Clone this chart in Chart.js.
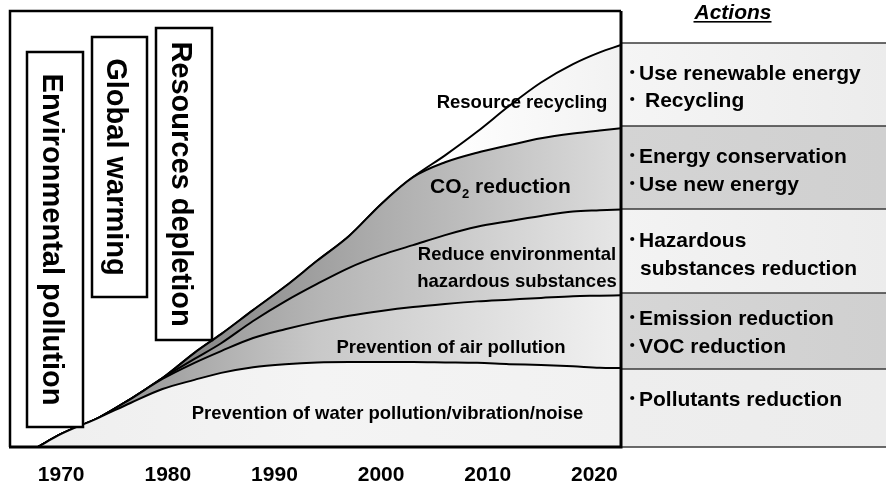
<!DOCTYPE html>
<html><head><meta charset="utf-8">
<script src="https://cdn.jsdelivr.net/npm/chart.js@4/dist/chart.umd.min.js"></script>
<style>html,body{margin:0;padding:0;background:#fff}canvas{display:block}</style>
</head><body>
<canvas id="c" width="886" height="489"></canvas>
<script>
// ---- data ----
const years = [1967.8,1970,1973.5,1976.5,1979.5,1982.5,1985,1988,1991,1994,1997,2000,2003,2006,2009,2012,2015,2018,2020.5,2022.5];
const tickYears = [1970,1980,1990,2000,2010,2020];
const waterPollution      = [0,3.0,6.7,10.1,13.3,15.4,17.0,18.3,19.0,19.4,19.5,19.5,19.5,19.4,19.3,19.0,18.8,18.5,18.2,18.1];
const airPollution        = [0,0,0,0.9,2.3,3.9,5.0,6.7,8.0,9.3,10.6,11.7,12.6,13.4,14.1,14.8,15.4,16.1,16.5,16.7];
const hazardousSubstances = [0,0,0,0,0.2,0.9,1.8,3.9,6.4,8.7,11.0,12.8,14.2,15.8,17.1,18.0,18.8,19.4,19.6,19.7];
const co2Reduction        = [0,0,0,0,0,1.4,2.1,2.5,3.4,5.3,7.3,11.7,15.6,16.7,17.0,17.4,17.8,17.9,18.3,18.6];
const resourceRecycling   = [0,0,0,0,0,0,0,0,0,0,0,0,0,1.6,4.8,9.0,12.8,15.9,17.9,19.1];
const seriesNames = ['Prevention of water pollution/vibration/noise','Prevention of air pollution','Reduce environmental hazardous substances','CO2 reduction','Resource recycling'];
const themes = ['Environmental pollution','Global warming','Resources depletion'];
const actionsTitle = 'Actions';
const actions = [
  ['Use renewable energy',' Recycling'],
  ['Energy conservation','Use new energy'],
  ['Hazardous',' substances reduction'],
  ['Emission reduction','VOC reduction'],
  ['Pollutants reduction']
];

// ---- styles ----
const FF = '"Liberation Sans", Arial, Helvetica, sans-serif';
const f = (s, it) => (it ? 'italic ' : '') + 'bold ' + s + 'px ' + FF;
const gradStops = [
  [[0,'#eeeeee'],[0.5,'#f4f4f4'],[1,'#f1f1f1']],
  [[0,'#7c7c7c'],[0.15,'#8e8e8e'],[0.3,'#aaaaaa'],[0.5,'#c8c8c8'],[1,'#f1f1f1']],
  [[0,'#7c7c7c'],[0.25,'#929292'],[0.5,'#b4b4b4'],[1,'#e6e6e6']],
  [[0,'#707070'],[0.3,'#878787'],[0.55,'#a6a6a6'],[1,'#dcdcdc']],
  [[0,'#ffffff'],[0.7,'#ffffff'],[1,'#f2f2f2']]
];
const fallback = ['#eeeeee','#c0c0c0','#b0b0b0','#a0a0a0','#fafafa'];
function grad(chart, i) {
  const a = chart.chartArea;
  if (!a) return fallback[i];
  const g = chart.ctx.createLinearGradient(a.left, 0, a.right, 0);
  gradStops[i].forEach(([o, c]) => g.addColorStop(o, c));
  return g;
}
const layers = [waterPollution, airPollution, hazardousSubstances, co2Reduction, resourceRecycling];

const overlay = {
  id: 'overlay',
  afterDatasetsDraw(chart) {
    const c = chart.ctx;
    const a = chart.chartArea;
    c.save();
    c.fillStyle = '#000';
    // area labels
    c.textAlign = 'center';
    c.textBaseline = 'alphabetic';
    c.font = f(18.5);
    c.fillText(seriesNames[0], 387.5, 419);
    c.fillText(seriesNames[1], 451, 353);
    c.fillText('Reduce environmental', 517, 260);
    c.fillText('hazardous substances', 517, 287);
    c.fillText(seriesNames[4], 522, 108);
    // CO2 label with subscript
    c.textAlign = 'left';
    c.font = f(21);
    let x = 430;
    c.fillText('CO', x, 193); x += c.measureText('CO').width + 0.5;
    c.font = f(13);
    c.fillText('2', x, 198); x += c.measureText('2').width;
    c.font = f(21);
    c.fillText(' reduction', x, 193);

    // theme boxes with vertical text
    const boxes = [[27,52,83,427,43],[92,37,147,297,107],[156,28,212,340,172]];
    boxes.forEach(([x0,y0,x1,y1,bx], i) => {
      c.fillStyle = '#fff';
      c.fillRect(x0, y0, x1 - x0, y1 - y0);
      c.strokeStyle = '#000';
      c.lineWidth = 2.5;
      c.strokeRect(x0, y0, x1 - x0, y1 - y0);
      c.save();
      c.translate(bx, (y0 + y1) / 2);
      c.rotate(Math.PI / 2);
      c.fillStyle = '#000';
      c.font = f(29);
      c.textAlign = 'center';
      c.textBaseline = 'alphabetic';
      c.fillText(themes[i], 0, 0);
      c.restore();
    });

    // table on the right
    const rows = [43,126,209,293,369,447];
    const rowFill = ['#f5f5f5','#d4d4d4','#f3f3f3','#d6d6d6','#eeeeee'];
    const tx0 = a.right, tx1 = chart.width;
    for (let r = 0; r < 5; r++) {
      const g = c.createLinearGradient(tx0, 0, tx1, 0);
      g.addColorStop(0, rowFill[r]);
      g.addColorStop(1, r % 2 ? '#d0d0d0' : '#ececec');
      c.fillStyle = g;
      c.fillRect(tx0, rows[r], tx1 - tx0, rows[r + 1] - rows[r]);
    }
    c.strokeStyle = '#3a3a3a';
    c.lineWidth = 1.6;
    rows.forEach(y => { c.beginPath(); c.moveTo(tx0, y); c.lineTo(tx1, y); c.stroke(); });
    const base = [[80,107],[163,191],[247,275],[325,353],[406]];
    c.fillStyle = '#000';
    c.textAlign = 'left';
    actions.forEach((lines, r) => {
      lines.forEach((t, k) => {
        const bullet = !(r === 2 && k === 1);
        if (bullet) {
          c.font = 'bold 21px "Noto Sans CJK JP", sans-serif';
          c.fillText('\uFF65', 627, base[r][k]);
        }
        c.font = f(21);
        c.fillText(t.trim(), t.startsWith(' ') ? (bullet ? 645 : 640) : 639, base[r][k]);
      });
    });
    // Actions title
    c.font = f(21, true);
    c.textAlign = 'center';
    c.fillText(actionsTitle, 733, 19);
    const w = c.measureText(actionsTitle).width;
    c.fillRect(733 - w / 2 - 1, 21, w + 1, 1.6);

    // frame
    c.strokeStyle = '#000';
    c.lineWidth = 2.5;
    c.beginPath();
    c.moveTo(a.left, a.bottom); c.lineTo(a.left, a.top); c.lineTo(a.right, a.top);
    c.stroke();
    c.lineWidth = 3;
    c.beginPath();
    c.moveTo(a.right, a.top); c.lineTo(a.right, a.bottom); c.lineTo(a.left - 1, a.bottom);
    c.stroke();
    c.restore();
  }
};

new Chart(document.getElementById('c'), {
  type: 'line',
  data: {
    datasets: layers.map((vals, i) => ({
      label: seriesNames[i],
      data: years.map((yr, j) => ({ x: yr, y: vals[j] })),
      fill: i === 0 ? 'origin' : '-1',
      backgroundColor: ctx => grad(ctx.chart, i),
      borderColor: '#000',
      borderWidth: 2,
      pointRadius: 0,
      cubicInterpolationMode: 'monotone'
    }))
  },
  options: {
    responsive: false,
    animation: false,
    events: [],
    layout: { padding: { left: 10, right: 265, top: 11, bottom: 0 } },
    plugins: { legend: { display: false }, tooltip: { enabled: false } },
    scales: {
      x: {
        type: 'linear', min: 1965.2, max: 2022.5,
        afterBuildTicks: s => { s.ticks = tickYears.map(v => ({ value: v })); },
        afterFit: s => { s.height = 42; },
        ticks: { callback: v => String(v), color: '#000', font: { family: FF, size: 21, weight: 'bold' }, padding: 15.4, maxRotation: 0, autoSkip: false },
        grid: { display: false, drawTicks: false },
        border: { display: false }
      },
      y: { display: false, stacked: true, min: 0, max: 100 }
    }
  },
  plugins: [overlay]
});
</script>
</body></html>
